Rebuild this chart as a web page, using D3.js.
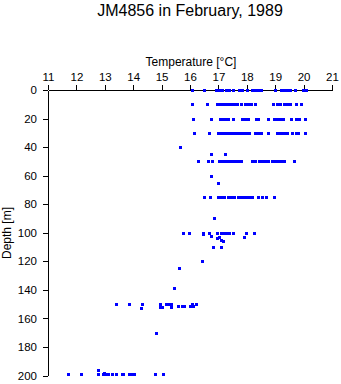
<!DOCTYPE html>
<html>
<head>
<meta charset="utf-8">
<script src="https://cdn.jsdelivr.net/npm/d3@7"></script>
<style>
  html, body { margin: 0; padding: 0; background: #fff; }
  svg { display: block; }
  text { font-family: "Liberation Sans", Arial, Helvetica, sans-serif; fill: #000; }
</style>
</head>
<body>
<svg id="chart" width="341" height="384"></svg>
<script>
// ---- Data (temperature readings in °C grouped by depth in m) ----
const title = "JM4856 in February, 1989";
const xTitle = "Temperature [\u00B0C]";
const yTitle = "Depth [m]";
const tempTicks = [11, 12, 13, 14, 15, 16, 17, 18, 19, 20, 21];
const depthTicks = [0, 20, 40, 60, 80, 100, 120, 140, 160, 180, 200];

const depthLevels = [0, 10, 20, 30, 40, 45, 50, 60, 65, 75, 90, 100, 101, 102, 103, 104, 105, 106, 110, 120, 125, 139, 150, 151.5, 152, 153, 170, 196, 198, 199];
const tempsByLevel = [
  [16.07, 16.49, 16.92, 17.02, 17.13, 17.27, 17.38, 17.5, 17.73, 17.83, 18.01, 18.18, 18.29, 18.39, 18.5, 19.0, 19.2, 19.31, 19.42, 19.52, 19.7, 19.98, 20.08],
  [16.07, 16.6, 16.95, 17.05, 17.15, 17.25, 17.35, 17.45, 17.55, 17.65, 17.8, 17.95, 18.05, 18.15, 18.3, 18.92, 19.06, 19.18, 19.3, 19.42, 19.52, 19.73, 19.9],
  [16.1, 16.74, 17.05, 17.15, 17.25, 17.35, 17.5, 17.82, 17.95, 18.05, 18.32, 18.39, 18.75, 18.96, 19.06, 19.16, 19.27, 19.56, 19.73, 19.85, 20.05],
  [16.14, 16.67, 16.99, 17.09, 17.19, 17.29, 17.39, 17.49, 17.59, 17.69, 17.79, 17.9, 18.0, 18.08, 18.29, 18.4, 18.5, 18.75, 19.06, 19.16, 19.26, 19.35, 19.42, 19.59, 19.73, 19.8, 20.05],
  [15.64],
  [16.75, 17.24],
  [16.29, 16.64, 16.79, 17.02, 17.12, 17.22, 17.3, 17.4, 17.5, 17.6, 17.7, 17.8, 18.18, 18.3, 18.42, 18.55, 18.65, 18.75, 18.88, 19.0, 19.1, 19.2, 19.3, 19.66],
  [16.75],
  [17.0],
  [16.5, 16.7, 17.0, 17.1, 17.2, 17.33, 17.45, 17.55, 17.68, 17.78, 17.9, 18.0, 18.1, 18.18, 18.4, 18.55, 18.66, 18.96],
  [16.86],
  [15.76, 15.98, 16.47, 16.68, 16.94, 17.08, 17.18, 17.28, 17.38, 17.5, 17.97, 18.25],
  [16.47],
  [16.74],
  [17.03, 17.9],
  [16.96],
  [17.09],
  [17.17],
  [16.82, 17.08],
  [16.41],
  [15.62],
  [15.43],
  [13.41, 13.86, 14.32, 14.95, 15.15, 15.25, 15.32, 16.06, 16.22],
  [15.57, 15.71, 15.8, 16.01, 16.12],
  [14.93, 15.0, 15.32],
  [14.29],
  [14.79],
  [12.77],
  [12.97],
  [11.72, 12.17, 12.76, 12.95, 13.05, 13.1, 13.25, 13.38, 13.6, 13.65, 13.85, 13.95, 14.02, 14.75, 15.06]
];

// ---- Build points ----
const points = [];
depthLevels.forEach((d, i) => tempsByLevel[i].forEach(t => points.push({ t, d })));

const svg = d3.select("#chart");
const x = d3.scaleLinear().domain([11, 21]).range([48, 332]);
const y = d3.scaleLinear().domain([0, 200]).range([90, 375.5]);

// Title
svg.append("text")
  .attr("x", 190).attr("y", 16)
  .attr("text-anchor", "middle")
  .style("font-size", "16px")
  .text(title);

// X axis title
svg.append("text")
  .attr("x", 191).attr("y", 66)
  .attr("text-anchor", "middle")
  .style("font-size", "12px")
  .text(xTitle);

// Y axis title
svg.append("text")
  .attr("transform", "translate(11,233) rotate(-90)")
  .attr("text-anchor", "middle")
  .style("font-size", "12px")
  .text(yTitle);

// X axis (top)
const gx = svg.append("g")
  .attr("transform", `translate(0,${y(0)})`)
  .call(d3.axisTop(x).tickValues(tempTicks).tickSize(5).tickSizeOuter(0).tickPadding(4).tickFormat(d3.format("d")));
gx.selectAll("text").style("font-size", "11.5px").style("font-family", "'Liberation Sans', Arial, sans-serif");

// Y axis (left)
const gy = svg.append("g")
  .attr("transform", `translate(${x(11)},0)`)
  .call(d3.axisLeft(y).tickValues(depthTicks).tickSize(5).tickSizeOuter(0).tickPadding(6).tickFormat(d3.format("d")));
gy.selectAll("text").style("font-size", "11.5px").style("font-family", "'Liberation Sans', Arial, sans-serif");

[gx, gy].forEach(g => {
  g.selectAll("path,line").attr("stroke", "#000").attr("shape-rendering", "crispEdges");
});

// Points
svg.append("g")
  .selectAll("rect")
  .data(points)
  .join("rect")
  .attr("x", p => Math.round(x(p.t)) - 1)
  .attr("y", p => Math.round(y(p.d)) - 1)
  .attr("width", 3)
  .attr("height", 3)
  .attr("fill", "#0000ff")
  .attr("shape-rendering", "crispEdges");
</script>
</body>
</html>
